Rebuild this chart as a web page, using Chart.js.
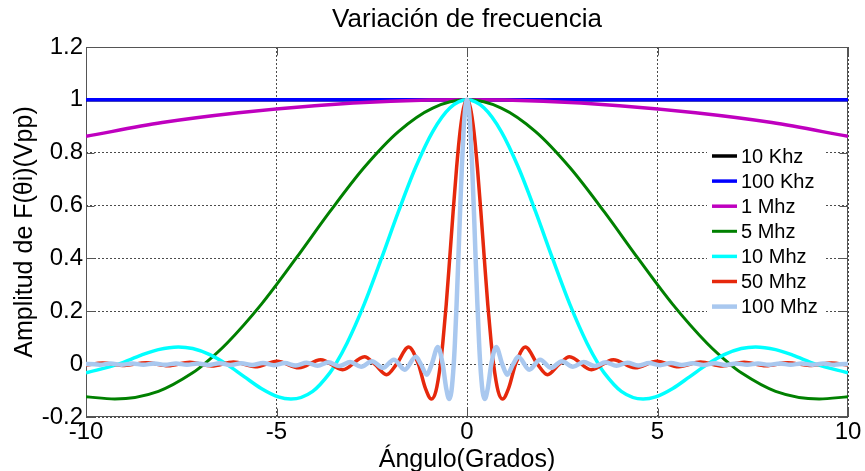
<!DOCTYPE html>
<html lang="es">
<head>
<meta charset="UTF-8">
<title>Variación de frecuencia</title>
<script src="https://cdn.jsdelivr.net/npm/chart.js"></script>
<style>
  body { margin: 0; background: #fff; }
  #chart { display: block; }
</style>
</head>
<body>
<canvas id="chart" width="865" height="471"></canvas>
<script>
// axis ticks
const xTicks = [-10, -5, 0, 5, 10];
const yTicks = [-0.2, 0, 0.2, 0.4, 0.6, 0.8, 1, 1.2];

const seriesNames = ['10 Khz', '100 Khz', '1 Mhz', '5 Mhz', '10 Mhz', '50 Mhz', '100 Mhz'];

// 10 Khz and 100 Khz: flat at 1
const x10k = [-10, 10];
const y10k = [1, 1];
const x100k = [-10, 10];
const y100k = [1, 1];

// 1 Mhz
const x1M = [-10, -8, -6, -4, -2, 0, 2, 4, 6, 8, 10];
const y1M = [0.862, 0.914, 0.951, 0.978, 0.9945, 1, 0.9945, 0.978, 0.951, 0.914, 0.862];

// 5 Mhz
const x5M = [-10, -9.245, -8.1, -7.2, -6.9, -6.3, -5.4, -4.5, -3.6, -2.7, -1.8, -0.9, 0,
             0.9, 1.8, 2.7, 3.6, 4.5, 5.4, 6.3, 6.9, 7.2, 8.1, 9.245, 10];
const y5M = [-0.123, -0.132, -0.103, -0.033, 0, 0.079, 0.226, 0.398, 0.577, 0.744, 0.880, 0.969, 1,
             0.969, 0.880, 0.744, 0.577, 0.398, 0.226, 0.079, 0, -0.033, -0.103, -0.132, -0.123];

// 10 Mhz
const x10M = [-10, -9.153, -8.55, -8.1, -7.575, -7.2, -6.75, -6.314, -5.85, -5.4, -4.95, -4.622, -4.05, -3.6, -3.449,
              -3.15, -2.7, -2.25, -1.8, -1.35, -0.9, -0.45, 0,
              0.45, 0.9, 1.35, 1.8, 2.25, 2.7, 3.15,
              3.449, 3.6, 4.05, 4.622, 4.95, 5.4, 5.85, 6.314, 6.75, 7.2, 7.575, 8.1, 8.55, 9.153, 10];
const y10M = [-0.033, 0, 0.034, 0.055, 0.065, 0.059, 0.036, 0, -0.047, -0.092, -0.124, -0.132, -0.103, -0.033, 0,
              0.079, 0.226, 0.398, 0.577, 0.744, 0.880, 0.969, 1,
              0.969, 0.880, 0.744, 0.577, 0.398, 0.226, 0.079,
              0, -0.033, -0.103, -0.132, -0.124, -0.092, -0.047, 0, 0.036, 0.059, 0.065, 0.055, 0.034, 0, -0.033];

// 50 Mhz
const x50M = [-10, -9.561, -8.989, -8.418, -7.846, -7.274, -6.702, -6.130, -5.558, -4.985, -4.413, -3.840, -3.265,
              -2.690, -2.422, -2.113, -1.849, -1.530, -1.276, -1.091, -0.934, -0.818, -0.697,
              -0.636, -0.545, -0.455, -0.364, -0.273, -0.182, -0.091, 0,
              0.091, 0.182, 0.273, 0.364, 0.455, 0.545, 0.636,
              0.697, 0.818, 0.934, 1.091, 1.276, 1.530, 1.849, 2.113, 2.422, 2.690,
              3.265, 3.840, 4.413, 4.985, 5.558, 6.130, 6.702, 7.274, 7.846, 8.418, 8.989, 9.561, 10];
const y50M = [-0.003, 0.004, -0.005, 0.005, -0.006, 0.007, -0.007, 0.008, -0.010, 0.011, -0.014, 0.017, -0.021,
              0.028, 0, -0.040, 0, 0.065, 0, -0.092, -0.132, -0.103, 0,
              0.079, 0.226, 0.398, 0.577, 0.744, 0.880, 0.969, 1,
              0.969, 0.880, 0.744, 0.577, 0.398, 0.226, 0.079,
              0, -0.103, -0.132, -0.092, 0, 0.065, 0, -0.040, 0, 0.028,
              -0.021, 0.017, -0.014, 0.011, -0.010, 0.008, -0.007, 0.007, -0.006, 0.005, -0.005, 0.004, -0.003];

// 100 Mhz
const x100M = [-10, -9.923, -9.637, -9.352, -9.066, -8.780, -8.495, -8.209, -7.924, -7.638, -7.352, -7.066,
               -6.781, -6.495, -6.209, -5.924, -5.638, -5.352, -5.066, -4.781, -4.495, -4.209, -3.923,
               -3.637, -3.351, -3.065, -2.779, -2.493, -2.206, -1.920, -1.633, -1.345, -1.211, -1.056,
               -0.925, -0.765, -0.638, -0.545, -0.467, -0.409, -0.348,
               -0.318, -0.273, -0.227, -0.182, -0.136, -0.091, -0.045, 0,
               0.045, 0.091, 0.136, 0.182, 0.227, 0.273, 0.318,
               0.348, 0.409, 0.467, 0.545, 0.638, 0.765, 0.925,
               1.056, 1.211, 1.345, 1.633, 1.920, 2.206, 2.493, 2.779, 3.065, 3.351, 3.637,
               3.923, 4.209, 4.495, 4.781, 5.066, 5.352, 5.638, 5.924, 6.209, 6.495, 6.781,
               7.066, 7.352, 7.638, 7.924, 8.209, 8.495, 8.780, 9.066, 9.352, 9.637, 9.923, 10];
const y100M = [0.001, 0.001, -0.002, 0.002, -0.002, 0.002, -0.002, 0.002, -0.002, 0.002, -0.002, 0.002,
               -0.003, 0.003, -0.003, 0.003, -0.003, 0.004, -0.004, 0.004, -0.005, 0.005, -0.006,
               0.007, -0.007, 0.008, -0.010, 0.011, -0.014, 0.017, -0.021, 0.028, 0, -0.040,
               0, 0.065, 0, -0.092, -0.132, -0.103, 0,
               0.079, 0.226, 0.398, 0.577, 0.744, 0.880, 0.969, 1,
               0.969, 0.880, 0.744, 0.577, 0.398, 0.226, 0.079,
               0, -0.103, -0.132, -0.092, 0, 0.065, 0,
               -0.040, 0, 0.028, -0.021, 0.017, -0.014, 0.011, -0.010, 0.008, -0.007, 0.007,
               -0.006, 0.005, -0.005, 0.004, -0.004, 0.004, -0.003, 0.003, -0.003, 0.003, -0.003,
               0.002, -0.002, 0.002, -0.002, 0.002, -0.002, 0.002, -0.002, 0.002, -0.002, 0.001, 0.001];

const seriesX = [x10k, x100k, x1M, x5M, x10M, x50M, x100M];
const seriesY = [y10k, y100k, y1M, y5M, y10M, y50M, y100M];
const colors = ['#000000', '#0000ff', '#bf00bf', '#008000', '#00ffff', '#e6280c', '#a9c8ef'];
const widths = [3.5, 3.5, 3.5, 3, 3.5, 3.5, 4.5];

const FONT = "'Liberation Sans', Arial, sans-serif";

function toPoints(xs, ys) {
    return xs.map((x, i) => ({ x: x, y: ys[i] }));
}

const datasets = seriesNames.map((name, i) => ({
    label: name,
    data: toPoints(seriesX[i], seriesY[i]),
    borderColor: colors[i],
    borderWidth: widths[i],
    pointRadius: 0,
    fill: false,
    cubicInterpolationMode: 'monotone',
    order: seriesNames.length - i   // last series drawn on top
}));

// frame, inner tick marks, titles and legend
const decor = {
    id: 'decor',
    beforeDatasetsDraw(chart) {
        const { ctx, chartArea: a, scales } = chart;
        const l = Math.round(a.left) + 0.5, r = Math.round(a.right) - 0.5;
        const t = Math.round(a.top) + 0.5, b = Math.round(a.bottom) - 0.5;
        ctx.save();
        ctx.strokeStyle = '#555';
        ctx.lineWidth = 1;
        ctx.strokeRect(l, t, r - l, b - t);
        ctx.beginPath();
        xTicks.forEach(v => {
            const px = Math.round(scales.x.getPixelForValue(v)) + 0.5;
            ctx.moveTo(px, b); ctx.lineTo(px, b - 8);
            ctx.moveTo(px, t); ctx.lineTo(px, t + 8);
        });
        yTicks.forEach(v => {
            const py = Math.round(scales.y.getPixelForValue(v)) + 0.5;
            ctx.moveTo(l, py); ctx.lineTo(l + 8, py);
            ctx.moveTo(r, py); ctx.lineTo(r - 8, py);
        });
        ctx.stroke();
        ctx.restore();
    },
    afterDraw(chart) {
        const { ctx, chartArea: a } = chart;
        const cx = (a.left + a.right) / 2;
        const cy = (a.top + a.bottom) / 2;
        ctx.save();
        ctx.fillStyle = '#000';
        ctx.textAlign = 'center';
        ctx.textBaseline = 'alphabetic';
        ctx.font = '26px ' + FONT;
        ctx.fillText('Variación de frecuencia', cx, 27);
        ctx.font = '25px ' + FONT;
        ctx.fillText('Ángulo(Grados)', cx, 466.5);
        ctx.save();
        ctx.translate(31.5, cy);
        ctx.rotate(-Math.PI / 2);
        ctx.fillText('Amplitud de F(θi)(Vpp)', 0, 0);
        ctx.restore();

        // legend box
        ctx.fillStyle = '#fff';
        ctx.fillRect(707, 143, 117, 177);
        ctx.font = '20px ' + FONT;
        ctx.textAlign = 'left';
        ctx.textBaseline = 'middle';
        seriesNames.forEach((name, i) => {
            const y = 156 + i * 25.1;
            ctx.strokeStyle = colors[i];
            ctx.lineWidth = widths[i];
            ctx.beginPath();
            ctx.moveTo(712, y);
            ctx.lineTo(737, y);
            ctx.stroke();
            ctx.fillStyle = '#000';
            ctx.fillText(name, 741, y + 1);
        });
        ctx.restore();
    }
};

new Chart(document.getElementById('chart'), {
    type: 'line',
    data: { datasets: datasets },
    options: {
        responsive: false,
        animation: false,
        devicePixelRatio: 1,
        layout: { padding: { top: 47, right: 17, left: 0, bottom: 0 } },
        plugins: {
            legend: { display: false },
            tooltip: { enabled: false },
            title: { display: false }
        },
        scales: {
            x: {
                type: 'linear',
                min: -10,
                max: 10,
                afterBuildTicks: s => { s.ticks = xTicks.map(v => ({ value: v })); },
                afterFit: s => { s.height = 54; s.paddingLeft = 0; s.paddingRight = 0; },
                ticks: {
                    color: '#000',
                    font: { family: FONT, size: 24 },
                    padding: 1,
                    maxRotation: 0,
                    autoSkip: false,
                    callback: v => String(v)
                },
                grid: { color: 'rgba(30,30,30,0.8)', lineWidth: 1, drawTicks: false },
                border: { display: false, dash: [2, 2] }
            },
            y: {
                type: 'linear',
                min: -0.2,
                max: 1.2,
                afterBuildTicks: s => { s.ticks = yTicks.map(v => ({ value: v })); },
                afterFit: s => { s.width = 86; s.paddingTop = 0; s.paddingBottom = 0; },
                ticks: {
                    color: '#000',
                    font: { family: FONT, size: 24 },
                    padding: 3,
                    autoSkip: false,
                    callback: v => String(+Number(v).toFixed(1))
                },
                grid: { color: 'rgba(30,30,30,0.8)', lineWidth: 1, drawTicks: false },
                border: { display: false, dash: [2, 2] }
            }
        }
    },
    plugins: [decor]
});
</script>
</body>
</html>
